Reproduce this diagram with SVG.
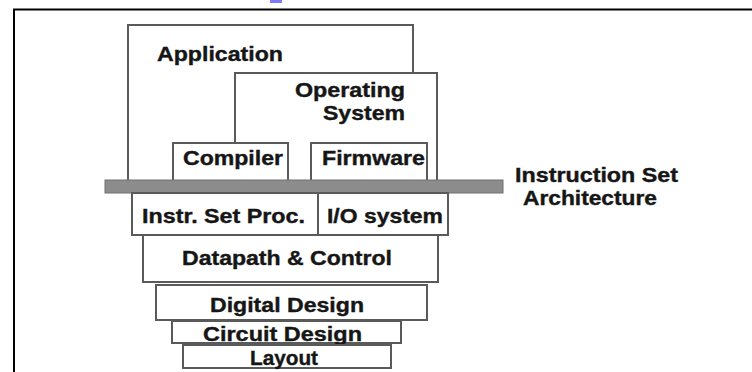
<svg xmlns="http://www.w3.org/2000/svg" width="752" height="372" viewBox="0 0 752 372">
  <style>
    .box { fill: #ffffff; stroke: #5a5a5a; stroke-width: 2; }
    .lbl { font-family: "Liberation Sans", Arial, sans-serif; font-weight: bold; font-size: 21px; fill: #161616; stroke: #161616; stroke-width: 0.4; }
    .frame { stroke: #000000; stroke-width: 2; fill: none; }
  </style>
  <rect width="752" height="372" fill="#ffffff"/>
  <!-- page frame -->
  <g id="frame">
    <rect x="270" y="0" width="12" height="3" fill="#7b7bf5"/>
    <path class="frame" d="M14,372 V9.5 H752"/>
  </g>

  <g id="application">
    <rect class="box" x="128" y="25" width="285" height="160"/>
    <text class="lbl" x="157" y="61" textLength="126" lengthAdjust="spacingAndGlyphs">Application</text>
  </g>
  <g id="operating-system">
    <rect class="box" x="235" y="73" width="202" height="112"/>
    <text class="lbl" x="295" y="97" textLength="110" lengthAdjust="spacingAndGlyphs">Operating</text>
    <text class="lbl" x="323" y="120" textLength="82" lengthAdjust="spacingAndGlyphs">System</text>
  </g>
  <g id="compiler">
    <rect class="box" x="173" y="143" width="115" height="40"/>
    <text class="lbl" x="183" y="165" textLength="100" lengthAdjust="spacingAndGlyphs">Compiler</text>
  </g>
  <g id="firmware">
    <rect class="box" x="311" y="143" width="116" height="40"/>
    <text class="lbl" x="322" y="165" textLength="103" lengthAdjust="spacingAndGlyphs">Firmware</text>
  </g>

  <g id="isa">
    <rect x="105" y="180" width="398" height="13" fill="#8c8c8c" stroke="#707070" stroke-width="1"/>
    <text class="lbl" x="515" y="182" textLength="163" lengthAdjust="spacingAndGlyphs">Instruction Set</text>
    <text class="lbl" x="523" y="205" textLength="134" lengthAdjust="spacingAndGlyphs">Architecture</text>
  </g>

  <g id="instr-set-proc">
    <rect class="box" x="132" y="193" width="186" height="42"/>
    <text class="lbl" x="142" y="223" textLength="163" lengthAdjust="spacingAndGlyphs">Instr. Set Proc.</text>
  </g>
  <g id="io-system">
    <rect class="box" x="318" y="193" width="130" height="42"/>
    <text class="lbl" x="327" y="223" textLength="116" lengthAdjust="spacingAndGlyphs">I/O system</text>
  </g>
  <g id="datapath-control">
    <rect class="box" x="143" y="235" width="295" height="47"/>
    <text class="lbl" x="182" y="265" textLength="210" lengthAdjust="spacingAndGlyphs">Datapath &amp; Control</text>
  </g>
  <g id="digital-design">
    <rect class="box" x="156" y="285" width="271" height="35"/>
    <text class="lbl" x="210" y="312" textLength="154" lengthAdjust="spacingAndGlyphs">Digital Design</text>
  </g>
  <g id="circuit-design">
    <rect class="box" x="172" y="321" width="229" height="22"/>
    <text class="lbl" x="203" y="341" textLength="159" lengthAdjust="spacingAndGlyphs">Circuit Design</text>
  </g>
  <g id="layout">
    <rect class="box" x="183" y="345" width="208" height="23"/>
    <text class="lbl" x="250" y="365" font-size="18" textLength="68" lengthAdjust="spacingAndGlyphs">Layout</text>
  </g>
</svg>
